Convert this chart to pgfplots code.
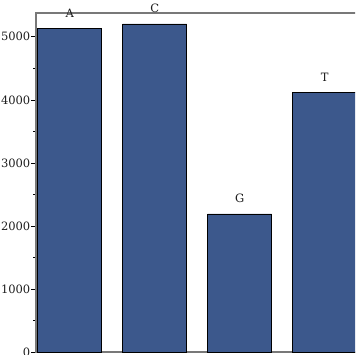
\documentclass[border=0pt]{standalone}
\usepackage{fontspec}
\setmainfont{DejaVu Serif}
\usepackage{pgfplots}
\pgfplotsset{compat=1.18}
\definecolor{barblue}{RGB}{60,88,140}
\definecolor{spine}{RGB}{120,120,120}
\definecolor{lbl}{RGB}{30,30,30}
\begin{document}
\begin{tikzpicture}[x=1pt,y=1pt]
\path[use as bounding box, clip] (0,0) rectangle (355,355);
\begin{axis}[
  at={(36pt,2.7pt)}, anchor=south west,
  scale only axis, width=344pt, height=339.6pt,
  xmin=-0.396, xmax=3.65, ymin=0, ymax=5382,
  ybar, bar width=64pt,
  axis line style={draw=spine, line width=2.2pt},
  xtick=\empty,
  ytick={0,1000,2000,3000,4000,5000},
  minor y tick num=1,
  ytick pos=left,
  tick align=outside,
  major tick length=5pt, minor tick length=3pt,
  tick style={black, line width=0.6pt},
  /pgf/number format/assume math mode=true,
  /pgf/number format/1000 sep={},
  yticklabel style={font=\fontsize{11.5}{13}\selectfont, text=lbl, inner xsep=0.5pt},
  point meta=explicit symbolic,
  nodes near coords,
  nodes near coords style={font=\fontsize{11.5}{13}\selectfont, text=lbl, anchor=south, inner sep=0pt, yshift=11pt},
]
\addplot[fill=barblue, draw=black, line width=0.9pt] coordinates {
  (0,5128) [A]
  (1,5203) [C]
  (2,2192) [G]
  (3,4114) [T]
};
\end{axis}
\end{tikzpicture}
\end{document}
